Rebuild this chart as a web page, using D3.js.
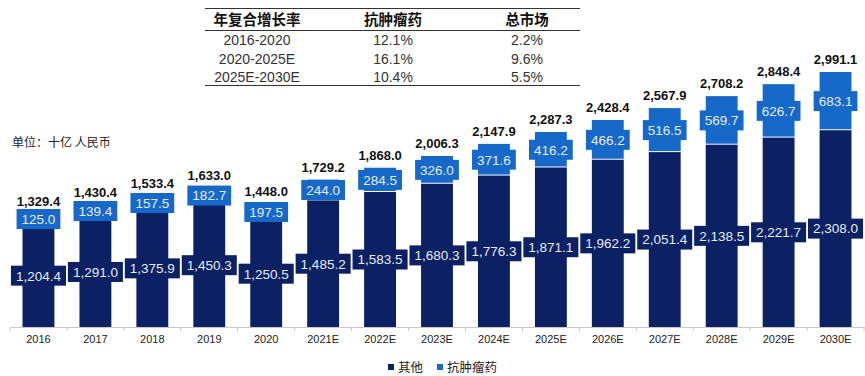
<!DOCTYPE html>
<html><head><meta charset="utf-8">
<script src="https://cdn.jsdelivr.net/npm/d3@7/dist/d3.min.js"></script>
<style>body{margin:0;background:#fff}svg{display:block}</style>
</head><body>
<svg id="c" width="865" height="376"></svg>
<script>
const categories = ["2016","2017","2018","2019","2020","2021E","2022E","2023E","2024E","2025E","2026E","2027E","2028E","2029E","2030E"];
const otherValues = [1204.4,1291.0,1375.9,1450.3,1250.5,1485.2,1583.5,1680.3,1776.3,1871.1,1962.2,2051.4,2138.5,2221.7,2308.0];
const oncologyValues = [125.0,139.4,157.5,182.7,197.5,244.0,284.5,326.0,371.6,416.2,466.2,516.5,569.7,626.7,683.1];
const totalValues = [1329.4,1430.4,1533.4,1633.0,1448.0,1729.2,1868.0,2006.3,2147.9,2287.3,2428.4,2567.9,2708.2,2848.4,2991.1];
const seriesNames = ["其他","抗肿瘤药"];
const tableHeader = ["年复合增长率","抗肿瘤药","总市场"];
const tablePeriods = ["2016-2020","2020-2025E","2025E-2030E"];
const tableOncology = ["12.1%","16.1%","10.4%"];
const tableTotal = ["2.2%","9.6%","5.5%"];
const unitLabel = "单位：十亿 人民币";

const DARK = "#0b2163", LIGHT = "#1769c9";
const svg = d3.select("#c");
const fmt = d3.format(",.1f");

const x = d3.scaleBand().domain(categories).range([10, 864]).paddingInner(0.44).paddingOuter(0.22);
const y = d3.scaleLinear().domain([0, 2991.1]).range([327, 72]);

// axis
const axis = d3.axisBottom(x).tickSize(0).tickPadding(8);
const ag = svg.append("g").attr("transform","translate(0,327)").call(axis);
ag.select(".domain").attr("stroke","#c8c8c8");
ag.selectAll("text").attr("font-family","Liberation Sans, Arial, sans-serif").attr("font-size",11).attr("fill","#222");
// band boundary ticks
const step = x.step();
const bounds = categories.map(c=> x(c) - (step - x.bandwidth())/2).concat([x(categories[categories.length-1]) + x.bandwidth() + (step - x.bandwidth())/2]);
svg.append("g").selectAll("line").data(bounds).join("line")
  .attr("x1",d=>d).attr("x2",d=>d).attr("y1",327).attr("y2",331).attr("stroke","#c8c8c8");

// bars
const data = categories.map((c,i)=>({c, o:otherValues[i], a:oncologyValues[i], t:totalValues[i]}));
const g = svg.append("g");
g.selectAll("rect.o").data(data).join("rect").attr("class","o")
  .attr("x",d=>x(d.c)).attr("width",x.bandwidth())
  .attr("y",d=>y(d.o)).attr("height",d=>y(0)-y(d.o)).attr("fill",DARK);
g.selectAll("rect.a").data(data).join("rect").attr("class","a")
  .attr("x",d=>x(d.c)).attr("width",x.bandwidth())
  .attr("y",d=>y(d.o+d.a)).attr("height",d=>y(d.o)-y(d.o+d.a)-1).attr("fill",LIGHT);

function labelBox(sel, val, cy, fill){
  const cx = x(sel.c) + x.bandwidth()/2;
  const t = fmt(val);
  const gg = svg.append("g");
  const txt = gg.append("text").attr("x",cx).attr("y",cy).attr("dy","0.36em")
    .attr("text-anchor","middle").attr("font-family","Liberation Sans, Arial, sans-serif")
    .attr("font-size",13.5).attr("fill","#e6ecf5").text(t);
  const w = txt.node().getComputedTextLength();
  gg.insert("rect","text").attr("x",cx - w/2 - 5).attr("y",cy-10).attr("width",w+10).attr("height",20).attr("fill",fill);
}
data.forEach(d=>{
  labelBox(d, d.o, (y(0)+y(d.o))/2, DARK);
  labelBox(d, d.a, (y(d.o)+y(d.o+d.a))/2, LIGHT);
});
svg.append("g").selectAll("text").data(data).join("text")
  .attr("x",d=>x(d.c)+x.bandwidth()/2).attr("y",d=>y(d.t)-8)
  .attr("text-anchor","middle").attr("font-family","Liberation Sans, Arial, sans-serif")
  .attr("font-weight","bold").attr("font-size",13).attr("fill","#111").text(d=>fmt(d.t));

// unit label
svg.append("text").attr("x",12).attr("y",147).attr("font-family","Noto Sans CJK SC, sans-serif")
  .attr("font-size",12).attr("fill","#222").text(unitLabel);

// table
const colX = [257, 393, 527];
const tg = svg.append("g");
tg.append("line").attr("x1",205).attr("x2",580).attr("y1",8.5).attr("y2",8.5).attr("stroke","#333").attr("stroke-width",1.2);
tg.append("line").attr("x1",205).attr("x2",580).attr("y1",30.5).attr("y2",30.5).attr("stroke","#333").attr("stroke-width",1);
tg.append("line").attr("x1",205).attr("x2",580).attr("y1",85.5).attr("y2",85.5).attr("stroke","#333").attr("stroke-width",1.2);
tableHeader.forEach((h,i)=>{
  tg.append("text").attr("x",colX[i]).attr("y",20).attr("dy","0.36em").attr("text-anchor","middle")
    .attr("font-family","Noto Sans CJK SC, sans-serif").attr("font-weight","bold").attr("font-size",14.5).attr("fill","#111").text(h);
});
tablePeriods.forEach((p,r)=>{
  const yy = 40 + r*18.5;
  [p, tableOncology[r], tableTotal[r]].forEach((v,i)=>{
    tg.append("text").attr("x",colX[i]).attr("y",yy).attr("dy","0.36em").attr("text-anchor","middle")
      .attr("font-family","Liberation Sans, Arial, sans-serif").attr("font-size",14).attr("fill","#333").text(v);
  });
});

// legend
const lg = svg.append("g");
const legendItems = [{n:seriesNames[0], c:DARK, x:388},{n:seriesNames[1], c:LIGHT, x:437}];
legendItems.forEach(it=>{
  lg.append("rect").attr("x",it.x).attr("y",364).attr("width",6).attr("height",6).attr("fill",it.c);
  lg.append("text").attr("x",it.x+10).attr("y",367).attr("dy","0.36em").attr("font-family","Noto Sans CJK SC, sans-serif")
    .attr("font-size",12.5).attr("fill","#222").text(it.n);
});
</script>
</body></html>
